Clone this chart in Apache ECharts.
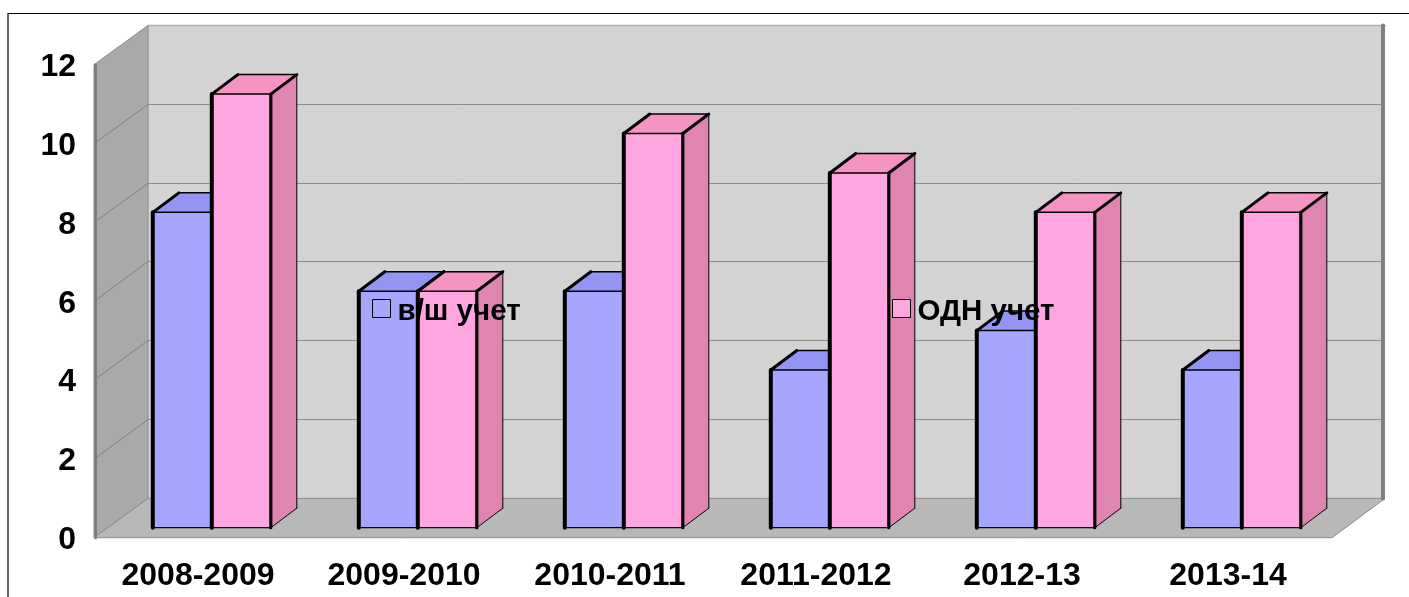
<!DOCTYPE html>
<html>
<head>
<meta charset="utf-8">
<script src="https://cdn.jsdelivr.net/npm/echarts@6/dist/echarts.min.js"></script>
<style>
html, body { margin: 0; padding: 0; background: #fff; overflow: hidden; }
#main { width: 1409px; height: 597px; }
</style>
</head>
<body>
<div id="main"></div>
<script>
var categories = ['2008-2009', '2009-2010', '2010-2011', '2011-2012', '2012-13', '2013-14'];
var vshValues = [8, 6, 6, 4, 5, 4];
var odnValues = [11, 6, 10, 9, 8, 8];
var yTicks = [0, 2, 4, 6, 8, 10, 12];
var fontName = '"Liberation Sans", Arial, sans-serif';

// глубина стенок и столбиков (псевдо 3D)
var wallDx = 54, wallDy = -39.3;
var wallExtra = 2;
var barDx = 26, barDy = -19.5;
var barOffX = 14.8, barOffY = -10;
var barShare = 59 / 206;

function poly(points, fill, stroke, width) {
    return {
        type: 'polygon',
        shape: { points: points },
        style: { fill: fill, stroke: stroke || null, lineWidth: width || 0 }
    };
}
function edge(a, b, width, color) {
    return {
        type: 'line',
        shape: { x1: a[0], y1: a[1], x2: b[0], y2: b[1] },
        style: { stroke: color || '#000', lineWidth: width, lineCap: 'round' }
    };
}

// стенки и пол
function renderWalls(params) {
    var c = params.coordSys;
    var l = c.x, r = c.x + c.width + wallExtra, t = c.y, b = c.y + c.height;
    var bl = l + wallDx, br = r + wallDx - 1, bt = t + wallDy, bb = b + wallDy;
    return {
        type: 'group',
        children: [
            poly([[bl, bt], [br, bt], [br, bb], [bl, bb]], '#d3d3d3'),
            poly([[l, t], [bl, bt], [bl, bb], [l, b]], '#a9a9a9', '#8a8a8a', 1),
            poly([[l, b], [bl, bb], [br, bb], [r, b]], '#b8b8b8', '#8a8a8a', 1),
            edge([bl, bt], [br, bt], 1.5, '#b0b0b0'),
            edge([br - 2, bt], [br - 2, bb], 4, '#7f7f7f'),
            edge([l + 1.5, t], [l + 1.5, b], 3, '#7f7f7f')
        ]
    };
}

// линии сетки на задней и левой стенке
function renderGrid(params, api) {
    var p = api.coord([0, api.value(0)]);
    var y = p[1], l = params.coordSys.x, r = l + params.coordSys.width + wallExtra;
    if (api.value(0) === 0 || api.value(0) === 12) {
        return { type: 'group', children: [] };
    }
    var backY = Math.floor(y + wallDy) + 0.5;
    return {
        type: 'group',
        children: [
            edge([l + 3, y - 2], [l + wallDx, backY], 1, '#808080'),
            edge([l + wallDx, backY], [r + wallDx - 4, backY], 1, '#8c8c8c')
        ]
    };
}

function barRenderer(side, front, top, sideFace) {
    return function (params, api) {
        var p = api.coord([api.value(0), api.value(1)]);
        var base = api.coord([api.value(0), 0]);
        var w = api.size([1, 0])[0] * barShare;
        var x0 = p[0] + barOffX + (side === 0 ? -w : 0);
        var x1 = x0 + w;
        var yt = p[1] + barOffY, yb = base[1] + barOffY;
        var a = [x0, yt], d = [x1, yt], e = [x1, yb], f = [x0, yb];
        var a2 = [x0 + barDx, yt + barDy], d2 = [x1 + barDx, yt + barDy], e2 = [x1 + barDx, yb + barDy];
        return {
            type: 'group',
            children: [
                poly([a, d, e, f], front),
                poly([a, a2, d2, d], top),
                poly([d, d2, e2, e], sideFace),
                edge(f, e, 1.2),
                edge(a, d, 1.5),
                edge(e, e2, 1),
                edge(d2, e2, 1),
                edge(a2, d2, 1.5),
                edge(a, f, 4),
                edge(d, e, 3.2),
                edge(a, a2, 3),
                edge(d, d2, 3)
            ]
        };
    };
}

var legendText = {
    formatter: '{a|{name}}',
    textStyle: {
        rich: { a: { fontFamily: fontName, fontWeight: 'bold', fontSize: 29.5, color: '#000', padding: [7, 0, 0, 2] } }
    }
};

var myChart = echarts.init(document.getElementById('main'));
myChart.setOption({
    animation: false,
    backgroundColor: '#fff',
    graphic: [{
        type: 'rect',
        z: 0,
        shape: { x: 8, y: 13.5, width: 1600, height: 800 },
        style: { fill: null, stroke: '#000', lineWidth: 1.2 }
    }],
    grid: { left: 94, right: 79, top: 64.7, bottom: 59.3 },
    legend: [
        {
            left: 372, top: 297, z: 20,
            itemWidth: 18, itemHeight: 18, itemGap: 0, padding: 0,
            formatter: legendText.formatter, textStyle: legendText.textStyle,
            itemStyle: { color: '#a6a6ff', borderColor: '#000', borderWidth: 1, opacity: 1 },
            data: [{ name: 'в/ш учет', icon: 'rect' }]
        },
        {
            left: 892, top: 297, z: 20,
            itemWidth: 18, itemHeight: 18, itemGap: 0, padding: 0,
            formatter: legendText.formatter, textStyle: legendText.textStyle,
            itemStyle: { color: '#ffa6e0', borderColor: '#000', borderWidth: 1, opacity: 1 },
            data: [{ name: 'ОДН учет', icon: 'rect' }]
        }
    ],
    xAxis: {
        type: 'category',
        data: categories,
        axisLine: { show: false },
        axisTick: { show: false },
        axisLabel: { margin: 22, interval: 0, padding: [0, 0, 0, 2], fontFamily: fontName, fontWeight: 'bold', fontSize: 32, color: '#000' }
    },
    yAxis: {
        type: 'value',
        min: 0,
        max: 12,
        interval: 2,
        axisLine: { show: false },
        axisTick: { show: false },
        splitLine: { show: false },
        axisLabel: { margin: 18, verticalAlign: 'top', lineHeight: 5, fontFamily: fontName, fontWeight: 'bold', fontSize: 32, color: '#000' }
    },
    series: [
        { name: 'walls', type: 'custom', z: 1, silent: true, renderItem: renderWalls, data: [[0, 0]] },
        {
            name: 'grid', type: 'custom', z: 2, silent: true, renderItem: renderGrid,
            encode: { x: 1, y: 0 },
            data: yTicks.map(function (v) { return [v, 0]; })
        },
        {
            name: 'в/ш учет', type: 'custom', z: 3, renderItem: barRenderer(0, '#a6a6ff', '#9494f5', '#8585d6'),
            itemStyle: { color: '#a6a6ff' },
            data: vshValues.map(function (v, i) { return [i, v]; })
        },
        {
            name: 'ОДН учет', type: 'custom', z: 4, renderItem: barRenderer(1, '#ffa6e0', '#f593c2', '#e085b2'),
            itemStyle: { color: '#ffa6e0' },
            data: odnValues.map(function (v, i) { return [i, v]; })
        }
    ]
});
</script>
</body>
</html>
